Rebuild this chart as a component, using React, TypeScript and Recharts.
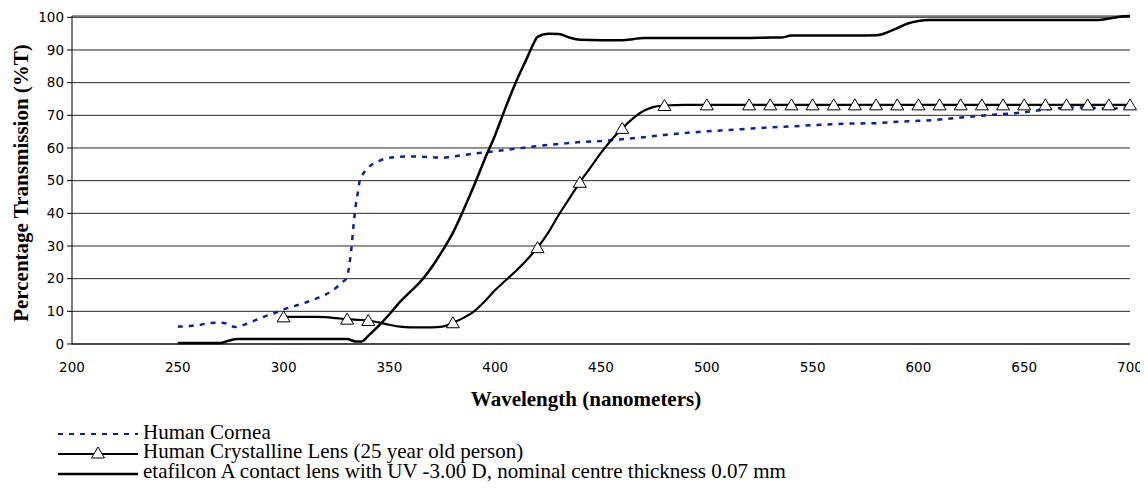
import { ComposedChart, Line, XAxis, YAxis, CartesianGrid, Legend } from 'recharts'

// wavelength (nm) vs % transmission
const wavelengthTicks = [200, 250, 300, 350, 400, 450, 500, 550, 600, 650, 700]
const transmissionTicks = [0, 10, 20, 30, 40, 50, 60, 70, 80, 90, 100]

const corneaNm = [
  250, 255, 260, 265, 270, 273, 277, 281, 285, 290, 295, 300, 305, 310, 315, 320, 325, 328, 330, 331,
  332, 333, 334, 335, 336, 338, 340, 345, 350, 360, 370, 375, 380, 390, 400, 410, 420, 430, 440, 450,
  460, 470, 480, 490, 500, 510, 520, 530, 540, 550, 560, 570, 580, 590, 600, 610, 620, 630, 640, 650,
  660, 670, 680, 690, 700,
]
const corneaT = [
  5.3, 5.5, 5.8, 6.4, 6.5, 6.3, 5.2, 5.8, 6.8, 8.2, 9.3, 10.6, 11.6, 12.6, 13.8, 15.2, 17.3, 19, 20.5, 24,
  29, 36, 42, 46, 50, 52.5, 54, 56, 57, 57.4, 57.2, 57, 57.4, 58.3, 59.0, 59.8, 60.6, 61.2, 61.8, 62.1,
  62.7, 63.3, 64, 64.6, 65.1, 65.5, 65.9, 66.3, 66.6, 67, 67.3, 67.5, 67.6, 68, 68.3, 68.7, 69.3, 69.9, 70.4, 70.9,
  71.8, 72.3, 72.4, 72, 72.6,
]

const lensNm = [
  300, 305, 310, 315, 320, 325, 330, 335, 340, 345, 350, 355, 360, 365, 370, 375, 380, 385, 390, 395,
  400, 405, 410, 415, 420, 425, 430, 435, 440, 445, 450, 455, 460, 465, 470, 475, 480, 490, 500, 510,
  520, 530, 540, 550, 560, 570, 580, 590, 600, 610, 620, 630, 640, 650, 660, 670, 680, 690, 700,
]
const lensT = [
  8.3, 8.3, 8.3, 8.3, 8.2, 7.9, 7.6, 7.4, 7.2, 6.6, 5.9, 5.3, 5.1, 5.1, 5.1, 5.3, 6.5, 8, 10, 13,
  16.5, 19.5, 22.5, 25.8, 29.5, 34, 39.5, 44.5, 49.5, 54, 58.5, 62.5, 66, 69, 71.3, 72.6, 73, 73.2, 73.2, 73.2,
  73.2, 73.2, 73.2, 73.2, 73.2, 73.2, 73.2, 73.2, 73.2, 73.2, 73.2, 73.2, 73.2, 73.2, 73.2, 73.2, 73.2, 73.2, 73.2,
]
const lensMarkerNm = [
  300, 330, 340, 380, 420, 440, 460, 480, 500, 520, 530, 540, 550, 560, 570, 580, 590, 600,
  610, 620, 630, 640, 650, 660, 670, 680, 690, 700,
]

const etafilconNm = [
  250, 260, 270, 274, 278, 290, 300, 310, 320, 330, 334, 337, 340, 345, 350, 355, 360, 365, 370, 375,
  380, 385, 390, 395, 400, 405, 410, 415, 418, 420, 425, 430, 435, 440, 450, 460, 465, 470, 480, 490,
  500, 510, 520, 530, 535, 540, 550, 560, 570, 580, 585, 590, 595, 600, 605, 610, 620, 630, 640, 650,
  660, 670, 680, 685, 690, 695, 700,
]
const etafilconT = [
  0.3, 0.3, 0.3, 1.0, 1.5, 1.5, 1.5, 1.5, 1.5, 1.5, 0.8, 0.8, 2.5, 5.6, 9.1, 12.9, 16.1, 19.3, 23.5, 28.5,
  34, 41, 48.5, 56.5, 64, 72.5, 80.5, 87.5, 91.8, 94, 95, 94.9, 93.8, 93.1, 93, 93, 93.3, 93.7, 93.7, 93.7,
  93.7, 93.7, 93.7, 93.8, 93.8, 94.4, 94.4, 94.4, 94.4, 94.5, 95.3, 96.7, 98.1, 98.9, 99.2, 99.2, 99.2, 99.2, 99.2, 99.2,
  99.2, 99.2, 99.2, 99.2, 99.6, 100.2, 100.4,
]

const seriesNames = [
  'Human Cornea',
  'Human Crystalline Lens (25 year old person)',
  'etafilcon A contact lens with UV -3.00 D, nominal centre thickness 0.07 mm',
]

const toRows = (nm: number[], t: number[]) => nm.map((x, i) => ({ nm: x, t: t[i] }))
const cornea = toRows(corneaNm, corneaT)
const lens = toRows(lensNm, lensT)
const etafilcon = toRows(etafilconNm, etafilconT)

const BLUE = '#0a22a0'
const SERIF = '"Liberation Serif", "Times New Roman", serif'
const SANS = '"DejaVu Sans", Verdana, sans-serif'

const triangle = (cx: number, cy: number) =>
  `M${cx},${cy - 6} L${cx + 6.5},${cy + 5} L${cx - 6.5},${cy + 5} Z`

const LensDot = (props: any) => {
  const { cx, cy, payload, index } = props
  if (!lensMarkerNm.includes(payload.nm) || cx == null) return <g key={`d${index}`} />
  return <path key={`d${index}`} d={triangle(cx, cy)} fill="#fff" stroke="#000" strokeWidth={1} />
}

const YTitle = (props: any) => {
  const { viewBox } = props
  const cx = 13
  const cy = viewBox.y + viewBox.height / 2 + 3
  return (
    <text x={cx} y={cy} transform={`rotate(-90, ${cx}, ${cy})`} textAnchor="middle"
      dominantBaseline="central" fontFamily={SERIF} fontWeight="bold" fontSize={21} fill="#000">
      Percentage Transmission (%T)
    </text>
  )
}

const XTitle = (props: any) => {
  const { viewBox } = props
  return (
    <text x={viewBox.x + viewBox.width / 2 - 15} y={viewBox.y + 62} textAnchor="middle"
      fontFamily={SERIF} fontWeight="bold" fontSize={21} fill="#000">
      Wavelength (nanometers)
    </text>
  )
}

function LegendRows() {
  const row = { display: 'flex', alignItems: 'center', height: 19.5 } as const
  const text = { marginLeft: 5, fontFamily: SERIF, fontSize: 21, lineHeight: '19.5px', whiteSpace: 'nowrap' } as const
  return (
    <div style={{ height: 58.5 }}>
      <div style={row}>
        <svg width={80} height={19.5}>
          <line x1={0} y1={11} x2={80} y2={11} stroke={BLUE} strokeWidth={2} strokeDasharray="5 6" />
        </svg>
        <span style={text}>{seriesNames[0]}</span>
      </div>
      <div style={row}>
        <svg width={80} height={19.5}>
          <line x1={0} y1={12} x2={80} y2={12} stroke="#000" strokeWidth={2} />
          <path d={triangle(40, 11)} fill="#fff" stroke="#000" strokeWidth={1} />
        </svg>
        <span style={text}>{seriesNames[1]}</span>
      </div>
      <div style={row}>
        <svg width={80} height={19.5}>
          <line x1={0} y1={12} x2={80} y2={12} stroke="#000" strokeWidth={2.5} />
        </svg>
        <span style={text}>{seriesNames[2]}</span>
      </div>
    </div>
  )
}

export default function App() {
  return (
    <ComposedChart width={1140} height={481} margin={{ top: 8, right: 18, bottom: 26.5, left: 0 }}>
      <CartesianGrid vertical={false} stroke="#000" strokeOpacity={0.85} />
      <XAxis
        type="number" dataKey="nm" domain={[200, 700]} ticks={wavelengthTicks}
        tick={{ fill: '#000', fontSize: 13.5, fontFamily: SANS }}
        tickLine={false} tickSize={6} tickMargin={12} height={60}
        axisLine={{ stroke: '#000' }} allowDuplicatedCategory={false}
        label={<XTitle />}
      />
      <YAxis
        type="number" domain={[0, 100]} ticks={transmissionTicks} width={64}
        tick={{ fill: '#000', fontSize: 13.5, fontFamily: SANS }}
        tickSize={5} tickMargin={3} tickLine={{ stroke: '#000' }}
        axisLine={{ stroke: '#000' }}
        label={<YTitle />}
      />
      <Legend content={<LegendRows />} wrapperStyle={{ left: 50, top: 414.7, width: 900 }} />
      <Line data={cornea} dataKey="t" name={seriesNames[0]} type="monotone" stroke={BLUE}
        strokeWidth={2.5} strokeDasharray="5 6" dot={false} activeDot={false} isAnimationActive={false} />
      <Line data={lens} dataKey="t" name={seriesNames[1]} type="monotone" stroke="#000"
        strokeWidth={2.2} dot={LensDot} activeDot={false} isAnimationActive={false} />
      <Line data={etafilcon} dataKey="t" name={seriesNames[2]} type="monotone" stroke="#000"
        strokeWidth={2.5} dot={false} activeDot={false} isAnimationActive={false} />
    </ComposedChart>
  )
}
